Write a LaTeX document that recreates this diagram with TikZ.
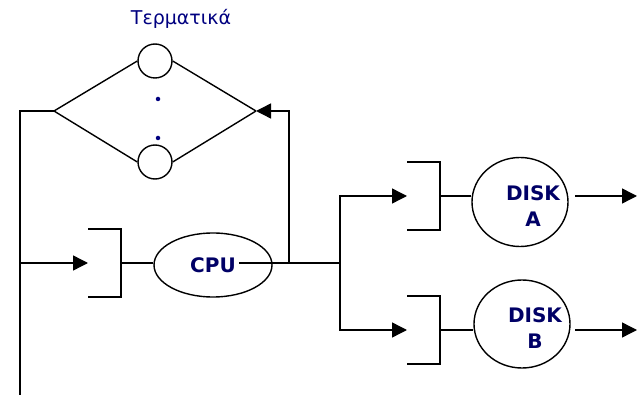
\documentclass[tikz,border=0pt]{standalone}
\usepackage{fontspec}
\usepackage{xcolor}
\usepackage{tikz}
\usetikzlibrary{positioning,arrows.meta,calc,shapes.geometric}
\newfontfamily\vsans{DejaVu Sans}
\definecolor{ink}{HTML}{000066}
\definecolor{titleblue}{HTML}{000080}

% open queue bracket: #1 name, #2 middle of its right side
\newcommand{\qbracket}[2]{%
  \coordinate (#1) at (#2);
  \draw[wire] (#1) ++(-33,-34) -| ++(33,68) -- ++(-33,0);
  \coordinate (#1-in) at ($(#1)+(-33,0)$);}

\begin{document}
\begin{tikzpicture}[x=1pt, y=-1pt,
    wire/.style={line width=1.4pt, draw=black},
    arr/.style={wire, -{Triangle[length=15pt, width=15pt]}},
    term/.style={wire, circle, minimum size=34pt, inner sep=0pt, fill=white},
    server/.style={wire, ellipse, inner sep=0pt, fill=white},
    lbl/.style={font=\vsans\bfseries\fontsize{20}{26}\selectfont, text=ink, align=center},
    dot/.style={circle, fill=titleblue, inner sep=0pt, minimum size=4.5pt}
]
    \useasboundingbox (0,0) rectangle (637,395);

    % terminals
    \node[font=\vsans\fontsize{19}{22}\selectfont, text=titleblue] (title) at (181,19) {Τερματικά};
    \node[term] (t1) at (155,61) {};
    \node[term] (t2) at (155,162) {};
    \node[dot] (d1) at (158,99) {};
    \node[dot] (d2) at (158,138) {};
    \coordinate (split) at (54,111);
    \coordinate (join) at (256,111);
    \draw[wire] (split) -- (t1.west) (t1.east) -- (join);
    \draw[wire] (split) -- (t2.west) (t2.east) -- (join);

    % cpu
    \qbracket{qc}{121,263}
    \node[server, minimum width=118pt, minimum height=64pt] (cpu) at (213,265) {};
    \node[lbl] (cputxt) at (213,265) {CPU};
    \draw[wire] (qc) -- (qc -| cpu.west);

    % disks
    \qbracket{qa}{440,196}
    \qbracket{qb}{440,330}
    \node[server, minimum width=96pt, minimum height=89pt] (diskA) at (520,202) {};
    \node[lbl] (diskAtxt) at (533,206) {DISK\\A};
    \node[server, minimum width=96pt, minimum height=88pt] (diskB) at (522,324) {};
    \node[lbl] (diskBtxt) at (535,328) {DISK\\B};
    \draw[wire] (qa) -- (qa -| diskA.west);
    \draw[wire] (qb) -- (qb -| diskB.west);

    % connectors
    \coordinate (back) at (20,111);
    \coordinate (bottom) at (20,395);
    \coordinate (cpuout) at (239,263);
    \coordinate (tap) at (289,263);
    \coordinate (fork) at (340,263);
    \draw[wire] (split) -- (back) -- (bottom);
    \draw[arr] (back |- qc) -- (qc-in);
    \draw[wire] (cpuout) -- (fork);
    \draw[arr] (tap) |- (join);
    \draw[arr] (fork) |- (qa-in);
    \draw[arr] (fork) |- (qb-in);
    \coordinate (outA) at (637,196);
    \coordinate (outB) at (637,330);
    \draw[arr] (outA -| 575,0) -- (outA);
    \draw[arr] (outB -| 575,0) -- (outB);
\end{tikzpicture}
\end{document}
